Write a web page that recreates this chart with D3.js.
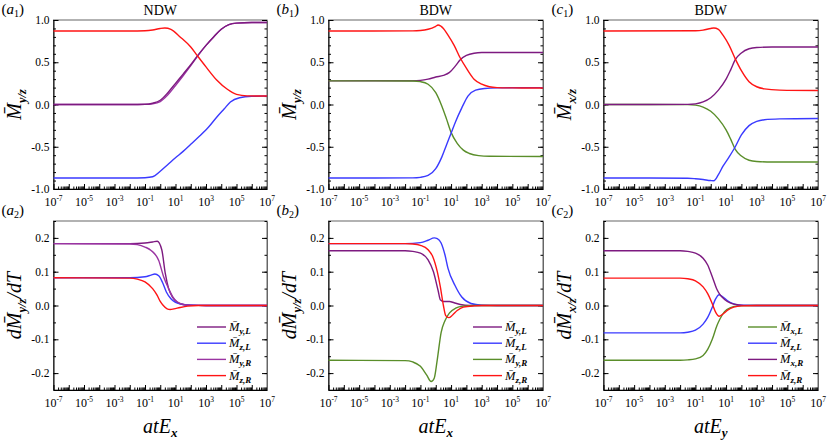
<!DOCTYPE html>
<html>
<head>
<meta charset="utf-8">
<script src="https://cdn.jsdelivr.net/npm/d3@7"></script>
<style>
  body { margin: 0; background: #fff; }
  svg text { font-family: "Liberation Serif", "DejaVu Serif", serif; fill: #000; }
</style>
</head>
<body>
<svg id="chart" width="830" height="442" font-family="Liberation Serif, DejaVu Serif, serif"></svg>
<script>
// Data: [log10(x), y]
const a1MyL = [[-7,0],[-2,0],[-1,0.003],[-0.5,0.015],[0,0.05],[0.5,0.14],[1,0.25],[1.5,0.36],[2,0.47],[2.5,0.59],[3,0.70],[3.5,0.80],[4,0.89],[4.5,0.945],[5,0.963],[6,0.97],[7,0.97]];
const a1MyR = [[-7,0],[-2,0],[-1,0.001],[-0.5,0.008],[0,0.035],[0.5,0.115],[1,0.225],[1.5,0.34],[2,0.46],[2.5,0.585],[3,0.70],[3.5,0.80],[4,0.89],[4.5,0.945],[5,0.963],[6,0.97],[7,0.97]];
const a1MzL = [[-7,-0.87],[-2,-0.87],[-1,-0.866],[-0.5,-0.855],[0,-0.79],[0.5,-0.71],[1,-0.63],[1.5,-0.555],[2,-0.47],[2.6,-0.37],[3.2,-0.26],[3.7,-0.15],[4.2,-0.05],[4.6,0.03],[5.2,0.08],[6,0.097],[7,0.1]];
const a1MzR = [[-7,0.87],[-2,0.87],[-1,0.873],[-0.5,0.882],[0,0.9],[0.3,0.905],[0.7,0.89],[1.3,0.8],[2,0.68],[2.4,0.585],[3,0.445],[3.7,0.29],[4.4,0.18],[5,0.12],[5.7,0.102],[7,0.1]];

const b1MyL = [[-7,0.28],[-1.5,0.281],[-1,0.285],[-0.5,0.30],[0,0.325],[0.5,0.345],[0.9,0.38],[1.3,0.46],[1.6,0.53],[2,0.58],[2.5,0.607],[3,0.615],[7,0.615]];
const b1MyR = [[-7,0.28],[-1.5,0.278],[-1,0.27],[-0.5,0.24],[0,0.14],[0.4,-0.02],[0.7,-0.17],[1,-0.33],[1.4,-0.46],[1.8,-0.54],[2.2,-0.58],[2.8,-0.605],[3.5,-0.613],[7,-0.615]];
const b1MzL = [[-7,-0.87],[-1.5,-0.868],[-1,-0.862],[-0.5,-0.84],[0,-0.76],[0.4,-0.62],[0.7,-0.48],[1,-0.34],[1.3,-0.2],[1.7,-0.04],[2.1,0.1],[2.6,0.17],[3.2,0.19],[4,0.197],[7,0.2]];
const b1MzR = [[-7,0.87],[-1.5,0.871],[-1,0.875],[-0.5,0.89],[0,0.925],[0.15,0.94],[0.5,0.9],[0.8,0.82],[1.2,0.70],[1.6,0.55],[2,0.43],[2.5,0.30],[3,0.24],[3.5,0.21],[4,0.2],[5,0.197],[7,0.195]];

const c1MxL = [[-7,0],[-1.5,-0.002],[-1,-0.008],[-0.5,-0.03],[0,-0.08],[0.5,-0.17],[1,-0.3],[1.3,-0.41],[1.6,-0.53],[2,-0.61],[2.5,-0.66],[3,-0.675],[4,-0.68],[7,-0.68]];
const c1MxR = [[-7,0],[-1.5,0.002],[-1,0.008],[-0.5,0.03],[0,0.08],[0.5,0.17],[1,0.3],[1.3,0.41],[1.6,0.53],[2,0.61],[2.5,0.66],[3,0.675],[4,0.68],[7,0.68]];
const c1MzL = [[-7,-0.87],[-1.5,-0.872],[-1,-0.878],[-0.5,-0.888],[0,-0.9],[0.2,-0.902],[0.5,-0.83],[0.8,-0.73],[1.2,-0.62],[1.6,-0.5],[2,-0.36],[2.5,-0.25],[3,-0.2],[3.5,-0.18],[4.5,-0.17],[7,-0.165]];
const c1MzR = [[-7,0.87],[-1,0.873],[-0.5,0.88],[0,0.9],[0.2,0.905],[0.5,0.89],[0.8,0.82],[1.2,0.70],[1.6,0.54],[2,0.40],[2.5,0.27],[3,0.21],[3.5,0.185],[4.5,0.17],[7,0.165]];

const a2MyL = [[-7,0.183],[-2,0.183],[-1,0.185],[-0.5,0.188],[-0.2,0.19],[0.1,0.165],[0.33,0.095],[0.55,0.05],[0.8,0.025],[1.1,0.01],[1.5,0.003],[2,0.001],[3,0],[7,0]];
const a2MzL = [[-7,0.082],[-2,0.082],[-1,0.085],[-0.6,0.09],[-0.35,0.093],[-0.1,0.088],[0.15,0.068],[0.4,0.04],[0.7,0.02],[1,0.009],[1.5,0.003],[2,0.001],[3,0],[7,0]];
const a2MyR = [[-7,0.183],[-2,0.182],[-1.5,0.18],[-1,0.173],[-0.6,0.163],[-0.1,0.133],[0.22,0.085],[0.55,0.05],[0.8,0.027],[1.1,0.011],[1.5,0.003],[2,0.001],[3,0],[7,0]];
const a2MzR = [[-7,0.082],[-2,0.081],[-1.5,0.078],[-1,0.07],[-0.5,0.05],[-0.2,0.03],[0,0.012],[0.2,0.0],[0.45,-0.01],[0.65,-0.012],[0.9,-0.01],[1.3,-0.006],[1.8,-0.002],[2.5,0],[7,0]];

const b2MyL = [[-7,0.162],[-2,0.162],[-1.5,0.16],[-1,0.155],[-0.5,0.135],[-0.15,0.1],[0.15,0.045],[0.31,0.016],[0.5,0.012],[0.9,0.012],[1.2,0.008],[1.6,0.003],[2.2,0],[7,0]];
const b2MzL = [[-7,0.183],[-2,0.183],[-1,0.186],[-0.5,0.193],[-0.1,0.2],[0.1,0.198],[0.35,0.185],[0.6,0.15],[0.8,0.11],[1.25,0.06],[1.7,0.025],[2.3,0.006],[3,0.001],[4,0],[7,0]];
const b2MyR = [[-7,-0.162],[-2,-0.163],[-1.5,-0.167],[-1,-0.18],[-0.6,-0.205],[-0.3,-0.225],[-0.1,-0.215],[0.1,-0.16],[0.35,-0.08],[0.6,-0.045],[0.9,-0.022],[1.3,-0.008],[1.8,-0.002],[2.5,0],[7,0]];
const b2MzR = [[-7,0.183],[-2,0.183],[-1.5,0.182],[-1,0.178],[-0.5,0.165],[-0.2,0.145],[0.1,0.1],[0.3,0.055],[0.5,0.0],[0.65,-0.03],[0.85,-0.036],[1.1,-0.028],[1.4,-0.015],[1.8,-0.005],[2.5,-0.001],[3,0],[7,0]];

const c2MxL = [[-7,-0.162],[-2,-0.162],[-1.5,-0.161],[-1,-0.158],[-0.5,-0.148],[-0.2,-0.13],[0.1,-0.1],[0.4,-0.06],[0.6,-0.04],[0.9,-0.018],[1.3,-0.006],[1.8,-0.001],[2.5,0],[7,0]];
const c2MzL = [[-7,-0.081],[-2,-0.081],[-1.5,-0.079],[-1,-0.073],[-0.5,-0.055],[-0.2,-0.035],[0.1,-0.005],[0.3,0.018],[0.55,0.032],[0.8,0.025],[1.1,0.014],[1.5,0.005],[2,0.001],[3,0],[7,0]];
const c2MxR = [[-7,0.162],[-2,0.162],[-1.5,0.16],[-1,0.155],[-0.5,0.14],[-0.2,0.12],[0.1,0.085],[0.4,0.048],[0.6,0.032],[0.9,0.018],[1.3,0.007],[1.8,0.002],[2.5,0],[7,0]];
const c2MzR = [[-7,0.081],[-2,0.081],[-1.5,0.079],[-1,0.073],[-0.5,0.055],[-0.2,0.035],[0.1,0.005],[0.3,-0.018],[0.55,-0.032],[0.8,-0.025],[1.1,-0.014],[1.5,-0.005],[2,-0.001],[3,0],[7,0]];

// Axis ticks and labels
const decades = d3.range(-7, 8);
const labelledDecades = [-7, -5, -3, -1, 1, 3, 5, 7];
const topTicks = [-1.0, -0.5, 0.0, 0.5, 1.0];
const bottomTicks = [-0.2, -0.1, 0.0, 0.1, 0.2];
const titles = ["NDW", "BDW", "BDW"];
const panelLetters = ["a", "b", "c"];
const xTitleSubs = ["x", "x", "y"];
const yTitleSubs = ["y/z", "y/z", "x/z"];

const colors = {
  purple: "#7d1a80",
  lilac: "#9a34a2",
  blue: "#3a3aff",
  red: "#ff1414",
  green: "#5a8e2a"
};

const FONT = "Liberation Serif, DejaVu Serif, serif";
const svg = d3.select("#chart");

const cols = [{x0: 53.5, x1: 267}, {x0: 328.5, x1: 543}, {x0: 603.5, x1: 818}];
const rows = [{y0: 20, y1: 189}, {y0: 221, y1: 390}];

const panels = [
  {col: 0, row: 0, series: [[a1MyR, colors.lilac], [a1MyL, colors.purple], [a1MzL, colors.blue], [a1MzR, colors.red]]},
  {col: 1, row: 0, series: [[b1MyL, colors.purple], [b1MyR, colors.green], [b1MzL, colors.blue], [b1MzR, colors.red]]},
  {col: 2, row: 0, series: [[c1MxL, colors.green], [c1MxR, colors.purple], [c1MzL, colors.blue], [c1MzR, colors.red]]},
  {col: 0, row: 1, series: [[a2MyL, colors.purple, "y,L"], [a2MzL, colors.blue, "z,L"], [a2MyR, colors.lilac, "y,R"], [a2MzR, colors.red, "z,R"]]},
  {col: 1, row: 1, series: [[b2MyL, colors.purple, "y,L"], [b2MzL, colors.blue, "z,L"], [b2MyR, colors.green, "y,R"], [b2MzR, colors.red, "z,R"]]},
  {col: 2, row: 1, series: [[c2MxL, colors.green, "x,L"], [c2MzL, colors.blue, "z,L"], [c2MxR, colors.purple, "x,R"], [c2MzR, colors.red, "z,R"]]}
];

// writes M-bar with a subscript into a text element
function mBar(t, sub, size, subSize, shift) {
  t.append("tspan").attr("font-style", "italic").attr("font-size", size).text("M\u0304");
  t.append("tspan").attr("font-style", "italic").attr("font-weight", "bold")
    .attr("font-size", subSize).attr("dy", shift).text(sub);
}

const minorTicks = [];
decades.slice(0, -1).forEach(e => {
  for (let k = 2; k < 10; k++) minorTicks.push(k * Math.pow(10, e));
});

panels.forEach(p => {
  const c = cols[p.col], r = rows[p.row];
  const x = d3.scaleLog().domain([1e-7, 1e7]).range([c.x0, c.x1]);
  const y = d3.scaleLinear()
    .domain(p.row === 0 ? [-1, 1] : [-0.25, 0.25])
    .range([r.y1, r.y0]);
  const yMajor = p.row === 0 ? topTicks : bottomTicks;
  const yMinor = p.row === 0 ? d3.range(-10, 11).map(v => v / 10) : d3.range(-5, 6).map(v => v / 20);

  const g = svg.append("g");

  // frame
  g.append("rect")
    .attr("x", c.x0).attr("y", r.y0)
    .attr("width", c.x1 - c.x0).attr("height", r.y1 - r.y0)
    .attr("fill", "none").attr("stroke", "#666").attr("stroke-width", 1);

  // x axis ticks (inward)
  g.append("g")
    .attr("transform", `translate(0,${r.y1})`)
    .call(d3.axisBottom(x).tickValues(minorTicks).tickSizeInner(-2.5).tickSizeOuter(0).tickFormat(""))
    .call(s => s.select(".domain").remove());
  g.append("g")
    .attr("transform", `translate(0,${r.y1})`)
    .call(d3.axisBottom(x).tickValues(decades.map(e => Math.pow(10, e))).tickSizeInner(-5).tickSizeOuter(0).tickFormat(""))
    .call(s => s.select(".domain").attr("stroke", "#000"));

  // x tick labels 10^n
  const xl = g.selectAll(".xl")
    .data(labelledDecades)
    .join("text")
    .attr("x", e => x(Math.pow(10, e)))
    .attr("y", r.y1 + 16.5)
    .attr("text-anchor", "middle")
    .attr("font-family", FONT)
    .attr("font-size", 12);
  xl.append("tspan").text("10");
  xl.append("tspan").attr("font-size", 7.5).attr("dy", -4.5).text(e => String(e));

  // y axis left
  g.append("g")
    .attr("transform", `translate(${c.x0},0)`)
    .call(d3.axisLeft(y).tickValues(yMinor).tickSizeInner(-2.5).tickSizeOuter(0).tickFormat(""))
    .call(s => s.select(".domain").remove());
  g.append("g")
    .attr("transform", `translate(${c.x0},0)`)
    .call(d3.axisLeft(y).tickValues(yMajor).tickSizeInner(-5).tickSizeOuter(0).tickPadding(4)
      .tickFormat(d => d.toFixed(1)))
    .call(s => s.select(".domain").attr("stroke", "#000"))
    .call(s => s.selectAll("text").attr("font-size", 11.5).attr("font-family", FONT));

  // y axis right
  g.append("g")
    .attr("transform", `translate(${c.x1},0)`)
    .call(d3.axisRight(y).tickValues(yMinor).tickSizeInner(-2.5).tickSizeOuter(0).tickFormat(""))
    .call(s => s.select(".domain").remove());
  g.append("g")
    .attr("transform", `translate(${c.x1},0)`)
    .call(d3.axisRight(y).tickValues(yMajor).tickSizeInner(-5).tickSizeOuter(0).tickFormat(""))
    .call(s => s.select(".domain").attr("stroke", "#666"));

  g.selectAll("g").attr("font-family", FONT);
  g.selectAll(".tick line").attr("stroke", "#000");

  // curves
  const line = d3.line()
    .x(d => x(Math.pow(10, d[0])))
    .y(d => y(d[1]))
    .curve(d3.curveMonotoneX);
  p.series.forEach(s => {
    g.append("path")
      .datum(s[0])
      .attr("fill", "none")
      .attr("stroke", s[1])
      .attr("stroke-width", 1.4)
      .attr("d", line);
  });

  // legend (bottom row only)
  if (p.row === 1) {
    const lx = c.x1 - 70;
    p.series.forEach((s, i) => {
      const ly = 327 + i * 16.2;
      g.append("line")
        .attr("x1", lx).attr("x2", lx + 29)
        .attr("y1", ly).attr("y2", ly)
        .attr("stroke", s[1]).attr("stroke-width", 1.4);
      const t = g.append("text").attr("x", lx + 32).attr("y", ly + 4).attr("font-family", FONT);
      mBar(t, s[2], 12.5, 9, 3);
    });
  }

  // panel label (a1) etc
  const pl = svg.append("text")
    .attr("x", c.x0 - 52)
    .attr("y", r.y0 - 6)
    .attr("font-family", FONT)
    .attr("font-size", 15);
  pl.append("tspan").text("(");
  pl.append("tspan").attr("font-style", "italic").text(panelLetters[p.col]);
  pl.append("tspan").attr("font-size", 10).attr("dy", 3).text(p.row + 1);
  pl.append("tspan").attr("dy", -3).text(")");

  // title
  if (p.row === 0) {
    svg.append("text")
      .attr("x", (c.x0 + c.x1) / 2)
      .attr("y", 15)
      .attr("text-anchor", "middle")
      .attr("font-family", FONT)
      .attr("font-size", 14)
      .text(titles[p.col]);
  }

  // y title
  const yt = svg.append("text")
    .attr("transform", `translate(${c.x0 - 33},${(r.y0 + r.y1) / 2}) rotate(-90)`)
    .attr("text-anchor", "middle")
    .attr("font-family", FONT);
  if (p.row === 0) {
    mBar(yt, yTitleSubs[p.col], 20, 12.5, 5);
  } else {
    yt.append("tspan").attr("font-style", "italic").attr("font-size", 20).text("d");
    mBar(yt, yTitleSubs[p.col], 20, 12.5, 5);
    yt.append("tspan").attr("font-style", "italic").attr("font-size", 20).attr("dy", -5).text("/dT");
  }

  // x title
  if (p.row === 1) {
    const xt = svg.append("text")
      .attr("x", (c.x0 + c.x1) / 2)
      .attr("y", 433)
      .attr("text-anchor", "middle")
      .attr("font-family", FONT)
      .attr("font-style", "italic")
      .attr("font-size", 20);
    xt.append("tspan").text("atE");
    xt.append("tspan").attr("font-size", 13).attr("font-weight", "bold").attr("dy", 4).text(xTitleSubs[p.col]);
  }
});
</script>
</body>
</html>
